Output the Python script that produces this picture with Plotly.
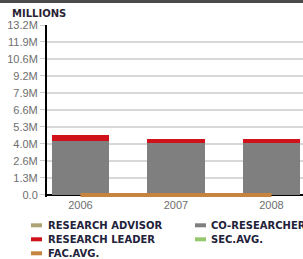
import plotly.graph_objects as go

# ---- data ----
years = ["2006", "2007", "2008"]
research_advisor = [0.0, 0.0, 0.0]
co_researcher = [4.19e6, 4.06e6, 4.06e6]
research_leader = [0.49e6, 0.29e6, 0.29e6]
fac_avg = [0.0, 0.0, 0.0]

tick_values = [0, 1.32e6, 2.64e6, 3.96e6, 5.28e6, 6.6e6, 7.92e6, 9.24e6, 10.56e6, 11.88e6, 13.2e6]
tick_labels = ["0.0", "1.3M", "2.6M", "4.0M", "5.3M", "6.6M", "7.9M", "9.2M", "10.6M", "11.9M", "13.2M"]

legend_labels = ["RESEARCH ADVISOR", "CO-RESEARCHER", "RESEARCH LEADER", "SEC.AVG.", "FAC.AVG."]
legend_colors = ["#aea473", "#7f7f7f", "#d0121b", "#94c86a", "#c7843e"]

C_ADV, C_CO, C_LEAD, C_SEC, C_FAC = legend_colors

W, H = 303, 259
ML, MR, MT, MB = 47, 0, 25, 62
PW, PH = W - ML - MR, H - MT - MB


def px_x(px):
    return (px - ML) / PW


def px_y(py):
    return (H - MB - py) / PH


fig = go.Figure()
fig.add_trace(go.Bar(x=years, y=research_advisor, marker_color=C_ADV, showlegend=False))
fig.add_trace(go.Bar(x=years, y=co_researcher, marker_color=C_CO, marker_line_width=0, showlegend=False))
fig.add_trace(go.Bar(x=years, y=research_leader, marker_color=C_LEAD, marker_line_width=0, showlegend=False))
fig.add_trace(go.Scatter(x=years, y=fac_avg, mode="lines", line=dict(color=C_FAC, width=4),
                         cliponaxis=False, showlegend=False))

fig.update_layout(
    width=W, height=H,
    margin=dict(l=ML, r=MR, t=MT, b=MB, pad=0),
    barmode="stack", bargap=0.4,
    plot_bgcolor="white", paper_bgcolor="white",
    font=dict(family="Liberation Sans, Arial, sans-serif", size=11, color="#6e6e6e"),
)
fig.update_xaxes(type="category", range=[-0.35, 2.33], showgrid=False,
                 showline=False, ticks="", tickfont=dict(size=11, color="#6e6e6e"))
fig.update_yaxes(range=[-0.16e6, 13.2e6], tickvals=tick_values, ticktext=tick_labels,
                 showgrid=True, gridcolor="#d8d8d8", gridwidth=1.5,
                 zeroline=True, zerolinecolor="black", zerolinewidth=2, layer="below traces",
                 showline=True, linecolor="black", linewidth=2,
                 ticks="outside", ticklen=5, tickcolor="#cccccc", tickwidth=1,
                 tickfont=dict(size=11, color="#6e6e6e"))

shapes = []
annotations = []
# top dark band
shapes.append(dict(type="rect", xref="paper", yref="paper", x0=px_x(0), x1=px_x(W),
                   y0=px_y(3), y1=px_y(0), fillcolor="#4a4a4a", line_width=0, layer="above"))
annotations.append(dict(text="&nbsp;", xref="paper", yref="paper", x=px_x(0), y=px_y(0),
                        xanchor="left", yanchor="top", showarrow=False, width=W, height=3,
                        borderpad=0, borderwidth=0, bgcolor="#4a4a4a", font=dict(size=1)))
# title
annotations.append(dict(text="<b>MILLIONS</b>", xref="paper", yref="paper", x=px_x(10), y=px_y(13),
                        xanchor="left", yanchor="middle", showarrow=False,
                        font=dict(family="DejaVu Sans", size=10, color="#2b1f35")))

# legend (manual, to match compact layout)
positions = [(31, 46, 225.3), (195, 208.5, 225.3), (31, 46, 239.3), (195, 208.5, 239.3), (31, 46, 253.3)]
for lab, col, (sx, tx, cy) in zip(legend_labels, legend_colors, positions):
    shapes.append(dict(type="rect", xref="paper", yref="paper", x0=px_x(sx), x1=px_x(sx + 11),
                       y0=px_y(cy + 2), y1=px_y(cy - 2), fillcolor=col, line_width=0))
    annotations.append(dict(text="<b>" + lab + "</b>", xref="paper", yref="paper", x=px_x(tx), y=px_y(cy),
                            xanchor="left", yanchor="middle", showarrow=False,
                            font=dict(family="DejaVu Sans", size=10, color="#22213a")))

fig.update_layout(shapes=shapes, annotations=annotations)
fig.write_html("out.html", config={"displayModeBar": False},
               post_script="document.body.style.margin='0';document.body.style.overflow='hidden';")
